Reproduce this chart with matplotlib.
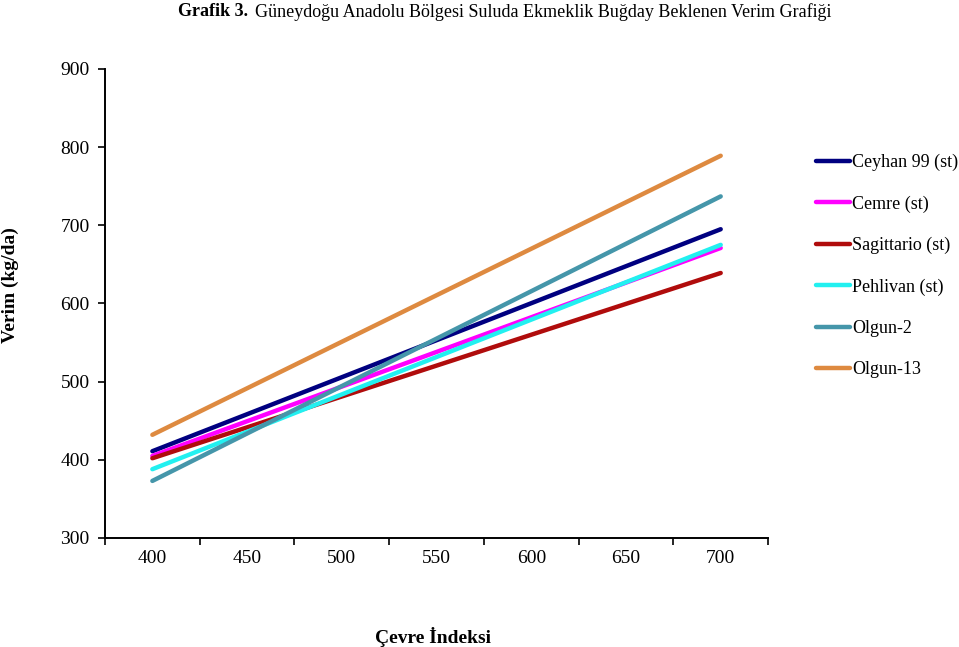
import matplotlib
matplotlib.use("Agg")
import matplotlib.pyplot as plt

# cevre indeksi (x) ve beklenen verim (kg/da) - uc noktalar
cevre = [400, 700]
ceyhan = [411, 695]
cemre = [405, 671]
sagittario = [402, 639]
pehlivan = [388, 675]
olgun2 = [373, 737]
olgun13 = [432, 789]

xticks = [400, 450, 500, 550, 600, 650, 700]
yticks = [300, 400, 500, 600, 700, 800, 900]

series = [
    ("Ceyhan 99 (st)", ceyhan, "#000080"),
    ("Cemre (st)", cemre, "#FF00FF"),
    ("Sagittario (st)", sagittario, "#B00C0C"),
    ("Pehlivan (st)", pehlivan, "#22F0F0"),
    ("Olgun-2", olgun2, "#4596AA"),
    ("Olgun-13", olgun13, "#DE8A40"),
]

plt.rcParams["font.family"] = ["Liberation Serif", "DejaVu Serif"]

fig = plt.figure(figsize=(9.59, 6.47), dpi=100)
ax = fig.add_axes([0.1095, 0.1685, 0.6914, 0.7249])

for name, vals, col in series:
    ax.plot(cevre, vals, color=col, lw=3.2, label=name, solid_capstyle="round")

ax.set_xlim(375, 725)
ax.set_ylim(300, 900)
ax.set_yticks(yticks)
ax.tick_params(axis="y", direction="out", length=5, width=1.2, labelsize=14, pad=6)

# kategori ekseni gibi: cizgiler aralarda, etiketler ortada
ax.set_xticks([x - 25 for x in xticks] + [725])
ax.set_xticklabels([])
ax.set_xticks(xticks, minor=True)
ax.set_xticklabels([str(x) for x in xticks], minor=True)
ax.tick_params(axis="x", which="major", direction="out", length=5, width=1.2)
ax.tick_params(axis="x", which="minor", length=0, labelsize=14, pad=9)

for s in ["top", "right"]:
    ax.spines[s].set_visible(False)
for s in ["left", "bottom"]:
    ax.spines[s].set_linewidth(1.4)

ax.legend(loc="upper left", bbox_to_anchor=(0.851, 0.762), bbox_transform=fig.transFigure,
          frameon=False, fontsize=13, handlelength=1.85, handletextpad=0.15,
          labelspacing=1.34, borderpad=0, borderaxespad=0)

fig.text(0.1856, 0.9815, "Grafik 3.", fontsize=13, fontweight="bold", ha="left", va="center")
fig.text(0.266, 0.9815, "Güneydoğu Anadolu Bölgesi Suluda Ekmeklik Buğday Beklenen Verim Grafiği",
         fontsize=13, ha="left", va="center")
fig.text(0.011, 0.56, "Verim (kg/da)", fontsize=14, fontweight="bold", rotation=90, ha="center", va="center")
fig.text(0.452, 0.015, "Çevre İndeksi", fontsize=14, fontweight="bold", ha="center", va="center")

fig.savefig("out.png", dpi=100)
